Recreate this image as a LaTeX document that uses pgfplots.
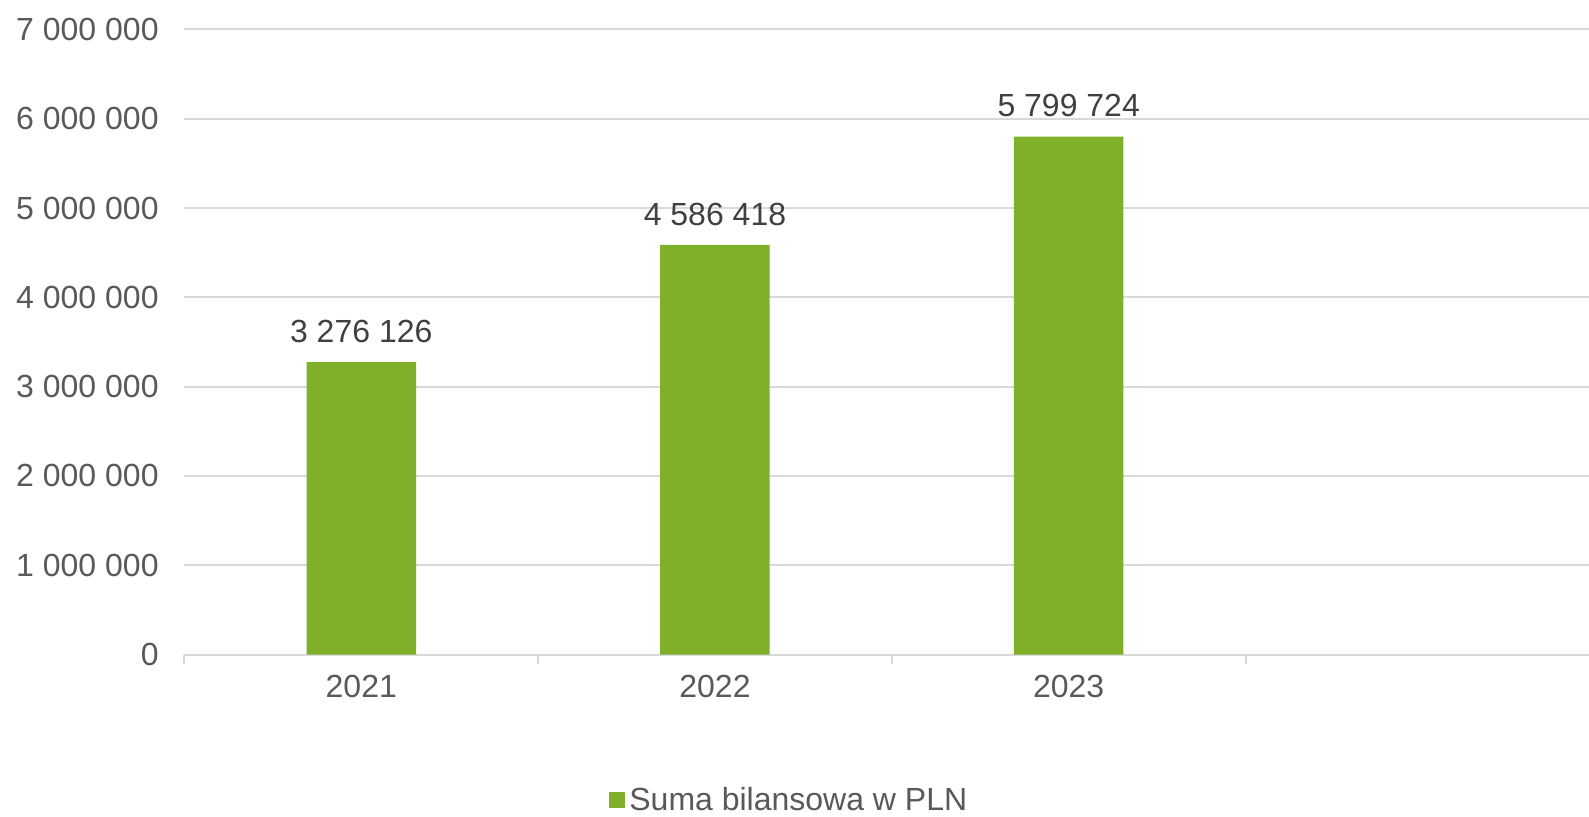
\documentclass[border=0pt]{standalone}
\usepackage{fontspec}
\setmainfont{Liberation Sans}
\usepackage{pgfplots}
\pgfplotsset{compat=1.18}
\definecolor{barg}{HTML}{80B02A}
\definecolor{gridg}{HTML}{D9D9D9}
\definecolor{txt}{HTML}{595959}
\definecolor{lbl}{HTML}{404040}
\begin{document}
\begin{tikzpicture}
\begin{axis}[
  at={(92.2pt,80.7pt)}, anchor=south west,
  scale only axis, width=702.3pt, height=312.6pt,
  xmin=-0.5, xmax=3.471, ymin=0, ymax=7000000,
  ytick={0,1000000,2000000,3000000,4000000,5000000,6000000,7000000},
  xtick={0,1,2}, xticklabels={2021,2022,2023},
  axis x line*=bottom, axis y line*=left,
  x axis line style={draw=gridg, line width=1pt, -},
  y axis line style={draw=none},
  ymajorgrids, major grid style={gridg, line width=1pt},
  major tick length=0pt,
  tick style={draw=none},
  extra x ticks={-0.5,0.5,1.5,2.5}, extra x tick labels={},
  extra x tick style={grid=none, major tick length=4.5pt, tick align=outside,
     tick style={draw=gridg, line width=1pt}},
  scaled y ticks=false,
  /pgf/number format/.cd, fixed, precision=0, 1000 sep={\ }, assume math mode=true,
  /pgfplots/.cd,
  ticklabel style={font=\fontsize{16}{19}\selectfont, text=txt},
  yticklabel style={anchor=east, inner sep=0pt, xshift=-12.7pt},
  xticklabel style={anchor=north, inner sep=0pt, yshift=-10pt},
  ybar, bar width=54.75pt, bar shift=0pt,
  nodes near coords, point meta=explicit symbolic,
  nodes near coords style={anchor=south, inner sep=0pt, yshift=9.5pt,
     font=\fontsize{16}{19}\selectfont, text=lbl},
  legend style={at={(0.4314,-0.2330)}, anchor=center, draw=none, inner sep=0pt,
     font=\fontsize{16}{19}\selectfont, text=txt},
  legend image code/.code={\fill[barg] (0pt,-4pt) rectangle (8pt,4pt);},
]
\addplot[fill=barg, draw=none] coordinates {
  (0,3276126) [3 276 126]
  (1,4586418) [4 586 418]
  (2,5799724) [5 799 724]
};
\addlegendentry{Suma bilansowa w PLN}
\end{axis}
\pgfresetboundingbox
\useasboundingbox (0,0) rectangle (794.5pt,408pt);
\end{tikzpicture}
\end{document}
